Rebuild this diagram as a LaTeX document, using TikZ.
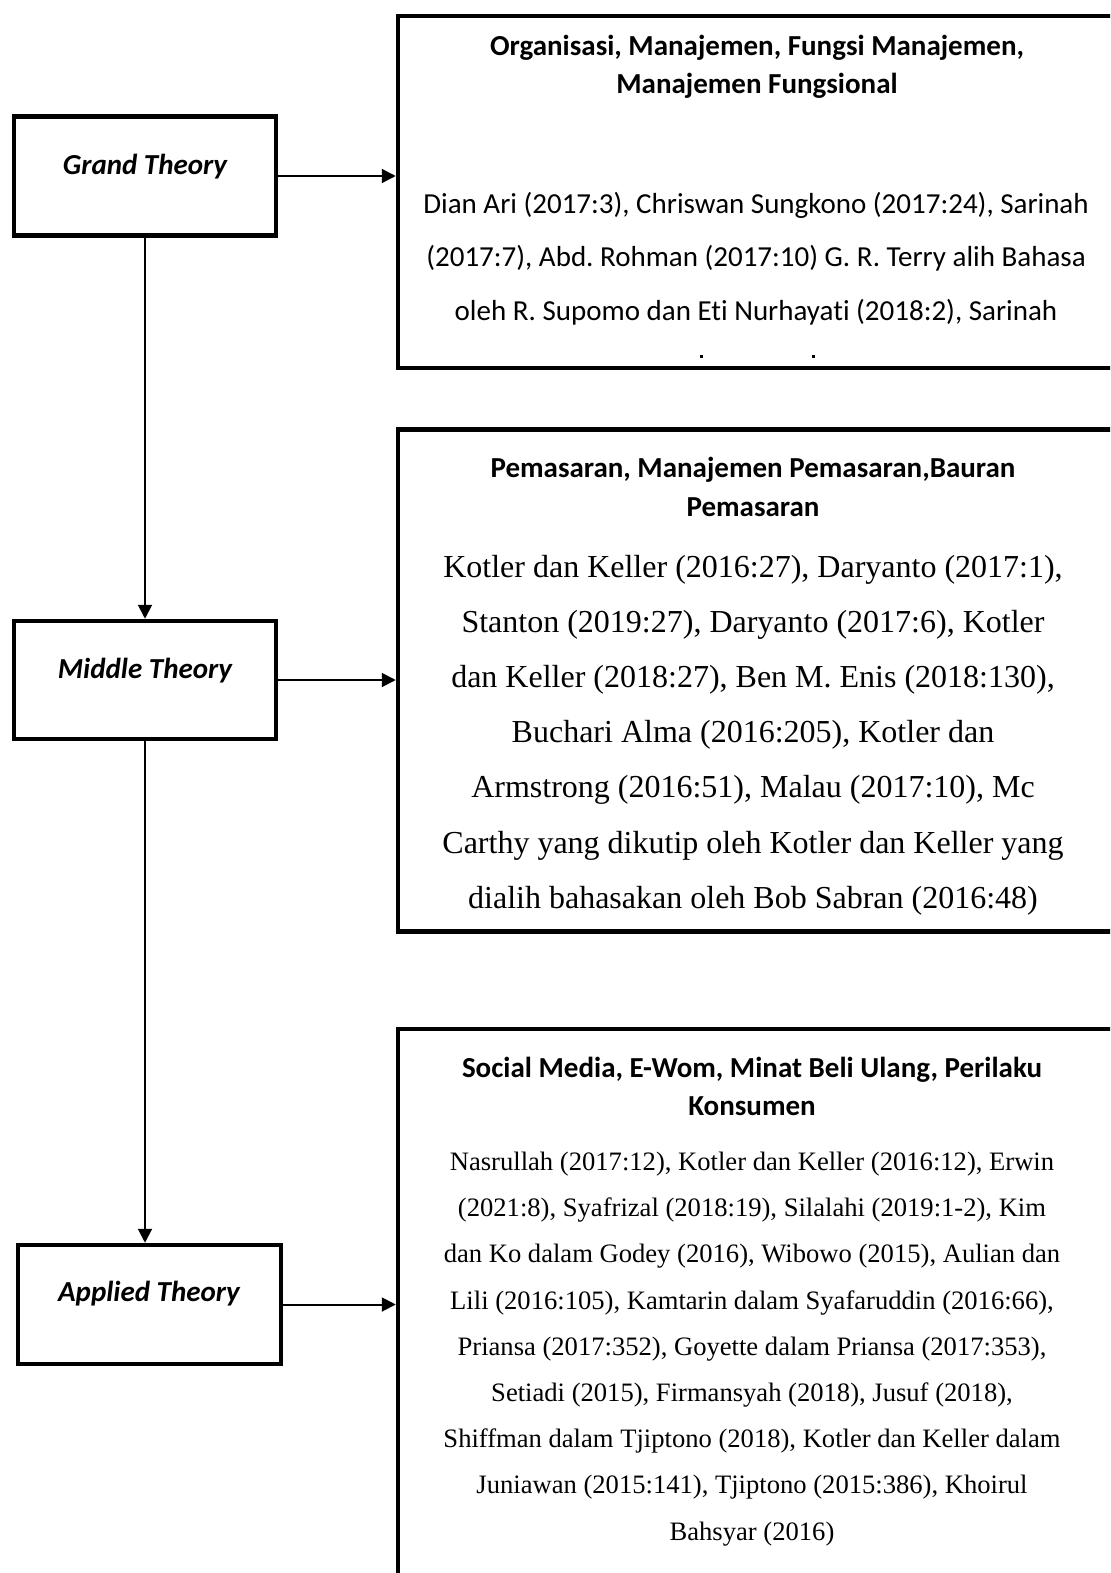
\documentclass[tikz,border=0pt]{standalone}
\usepackage{fontspec}
\setmainfont{Liberation Serif}
\newfontfamily\calfont[Ligatures=NoCommon]{Carlito}
\usetikzlibrary{arrows.meta}
\frenchspacing
\begin{document}
\begin{tikzpicture}[x=1bp,y=-1bp,
  lbox/.style={draw, line width=4.5bp, inner sep=0pt},
  rbox/.style={draw, line width=4.5bp, inner sep=0pt},
  lbl/.style={font=\calfont\bfseries\itshape\fontsize{29bp}{35bp}\selectfont, anchor=base, inner sep=0pt},
  ttl/.style={font=\calfont\bfseries\fontsize{29bp}{35bp}\selectfont, anchor=base, inner sep=0pt},
  bodyc/.style={font=\calfont\fontsize{29bp}{35bp}\selectfont, anchor=base, inner sep=0pt},
  bodyt/.style={font=\fontsize{32bp}{38bp}\selectfont, anchor=base, inner sep=0pt},
  bodys/.style={font=\fontsize{26.6bp}{32bp}\selectfont, anchor=base, inner sep=0pt},
  conn/.style={line width=2bp, -{Triangle[length=14bp,width=14bp]}},
]
\useasboundingbox (0,0) rectangle (1110,1573);
\clip (0,0) rectangle (1110,1573);
\fill[white] (0,0) rectangle (1110,1573);

% left boxes
\node[lbox, minimum width=262bp, minimum height=118.5bp] (g) at (145,176) {};
\node[lbox, minimum width=262bp, minimum height=118bp] (m) at (145,680) {};
\node[lbox, minimum width=263bp, minimum height=119bp] (a) at (149.5,1304.5) {};
\node[lbl] (gl) at (145,174) {Grand Theory};
\node[lbl] (ml) at (145,678) {Middle Theory};
\node[lbl] (al) at (149,1301.5) {Applied Theory};

% right boxes (extend past the page edge)
\node[rbox, minimum width=742bp, minimum height=352bp] (r1) at (769,192) {};
\node[rbox, minimum width=742bp, minimum height=502bp] (r2) at (769,680.5) {};
\node[rbox, minimum width=742bp, minimum height=620bp] (r3) at (769,1339) {};

% connectors
\draw[conn] (g.south) -- (m.north);
\draw[conn] (m.south) -- (m.south |- a.north);
\draw[conn] (g.east) -- (g.east -| r1.west);
\draw[conn] (m.east) -- (m.east -| r2.west);
\draw[conn] (a.east) -- (a.east -| r3.west);

% box 1 text
\node[ttl] (t1a) at (757,56) {Organisasi, Manajemen, Fungsi Manajemen,};
\node[ttl] (t1b) at (757,94) {Manajemen Fungsional};
\foreach \t [count=\i] in {{Dian Ari (2017:3), Chriswan Sungkono (2017:24), Sarinah},{(2017:7), Abd. Rohman (2017:10) G. R. Terry alih Bahasa},{oleh R. Supomo dan Eti Nurhayati (2018:2), Sarinah}}
  \node[bodyc] (p\i) at (756,{213+53.5*(\i-1)}) {\t};
\fill (700,355) rectangle (702.5,357.5);
\fill (812,355) rectangle (814.5,357.5);

% box 2 text
\node[ttl] (t2a) at (753,477) {Pemasaran, Manajemen Pemasaran,Bauran};
\node[ttl] (t2b) at (753,516) {Pemasaran};
\foreach \t [count=\i] in {{Kotler dan Keller (2016:27), Daryanto (2017:1),},{Stanton (2019:27), Daryanto (2017:6), Kotler},{dan Keller (2018:27), Ben M. Enis (2018:130),},{Buchari Alma (2016:205), Kotler dan},{Armstrong (2016:51), Malau (2017:10), Mc},{Carthy yang dikutip oleh Kotler dan Keller yang},{dialih bahasakan oleh Bob Sabran (2016:48)}}
  \node[bodyt] (q\i) at (753,{577+55.2*(\i-1)}) {\t};

% box 3 text
\node[ttl] (t3a) at (752,1077) {Social Media, E-Wom, Minat Beli Ulang, Perilaku};
\node[ttl] (t3b) at (752,1115) {Konsumen};
\foreach \t [count=\i] in {{Nasrullah (2017:12), Kotler dan Keller (2016:12), Erwin},{(2021:8), Syafrizal (2018:19), Silalahi (2019:1-2), Kim},{dan Ko dalam Godey (2016), Wibowo (2015), Aulian dan},{Lili (2016:105), Kamtarin dalam Syafaruddin (2016:66),},{Priansa (2017:352), Goyette dalam Priansa (2017:353),},{Setiadi (2015), Firmansyah (2018), Jusuf (2018),},{Shiffman dalam Tjiptono (2018), Kotler dan Keller dalam},{Juniawan (2015:141), Tjiptono (2015:386), Khoirul},{Bahsyar (2016)}}
  \node[bodys] (s\i) at (752,{1170.5+46.2*(\i-1)}) {\t};
\end{tikzpicture}
\end{document}
